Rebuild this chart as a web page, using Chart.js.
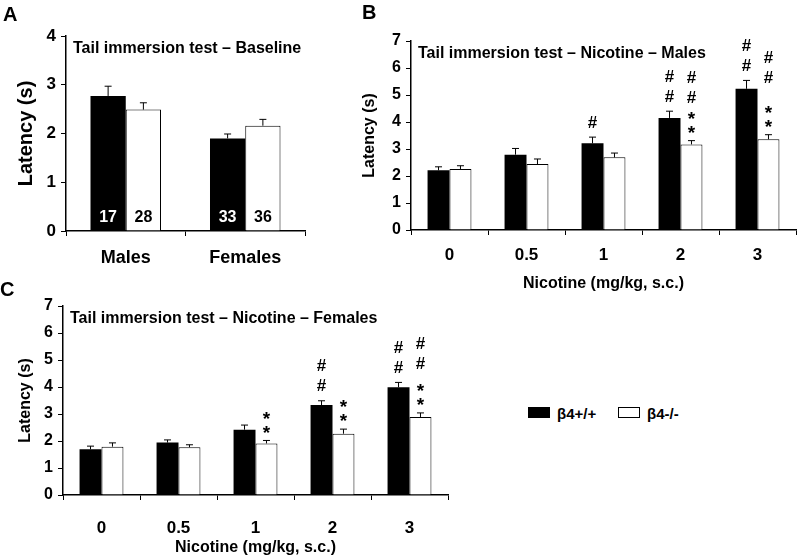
<!DOCTYPE html>
<html>
<head>
<meta charset="utf-8">
<title>Tail immersion test</title>
<script src="https://cdn.jsdelivr.net/npm/chart.js@4.4.1/dist/chart.umd.min.js"></script>
<style>
  html, body { margin: 0; padding: 0; background: #fff; }
  body { width: 797px; height: 558px; position: relative; overflow: hidden;
         font-family: "Liberation Sans", Arial, sans-serif; color: #000; }
  canvas { position: absolute; }
  .letter { position: absolute; font-weight: bold; font-size: 20px; line-height: 1; z-index: 2; }
  .key { position: absolute; width: 22px; height: 11px; box-sizing: border-box; border: 1px solid #000; }
  .key-text { position: absolute; font-weight: bold; font-size: 15px; line-height: 1; }
</style>
</head>
<body>
<div class="letter" style="left:3px;top:4px">A</div>
<div class="letter" style="left:362px;top:2px">B</div>
<div class="letter" style="left:0px;top:279px">C</div>

<canvas id="chart-baseline" width="310" height="290" style="left:0;top:0"></canvas>
<canvas id="chart-males" width="447" height="300" style="left:350px;top:0"></canvas>
<canvas id="chart-females" width="450" height="278" style="left:0;top:280px"></canvas>

<!-- legenda comum -->
<div class="key" style="left:528px;top:407px;background:#000"></div>
<div class="key-text" style="left:557px;top:406px">β4+/+</div>
<div class="key" style="left:618px;top:407px;background:#fff"></div>
<div class="key-text" style="left:647px;top:406px">β4-/-</div>

<script>
// --- dados ---
const seriesNames = ['β4+/+', 'β4-/-'];

// A: baseline
const baselineLabels = ['Males', 'Females'];
const baselineWT = [2.77, 1.90];
const baselineWTErr = [0.20, 0.09];
const baselineKO = [2.49, 2.16];
const baselineKOErr = [0.14, 0.13];
const baselineWTn = ['17', '33'];
const baselineKOn = ['28', '36'];

// B / C: dose de nicotina
const doseLabels = ['0', '0.5', '1', '2', '3'];

const malesWT = [2.21, 2.79, 3.21, 4.15, 5.23];
const malesWTErr = [0.13, 0.23, 0.23, 0.25, 0.31];
const malesKO = [2.26, 2.44, 2.69, 3.17, 3.36];
const malesKOErr = [0.12, 0.19, 0.16, 0.14, 0.17];
// marcas de cima para baixo; ' ' = espaço inteiro, '_' = meio espaço
const malesWTMarks = ['', '', '#', '##', '##'];
const malesKOMarks = ['', '', '', '##**', '## **'];

const femalesWT = [1.69, 1.94, 2.42, 3.33, 3.99];
const femalesWTErr = [0.12, 0.10, 0.17, 0.16, 0.18];
const femalesKO = [1.79, 1.77, 1.91, 2.27, 2.89];
const femalesKOErr = [0.14, 0.09, 0.11, 0.17, 0.15];
const femalesWTMarks = ['', '', '', '##', '##'];
const femalesKOMarks = ['', '', '**', '**', '##_**'];

const FONT = '"Liberation Sans", Arial, sans-serif';

// título dentro da área do gráfico
const panelTitle = {
    id: 'panelTitle',
    afterDraw(chart, args, opts) {
        const { ctx, chartArea } = chart;
        ctx.save();
        ctx.font = `bold 16px ${FONT}`;
        ctx.fillStyle = '#000';
        ctx.textBaseline = 'middle';
        ctx.fillText(opts.text, chartArea.left + 7, chartArea.top + 13);
        ctx.restore();
    }
};

// empilha # e * acima da barra de erro (de baixo para cima)
function drawMarks(ctx, marks, x, top) {
    const heights = { '*': 14, '#': 20, ' ': 14, '_': 7 };
    const symbols = marks.split('').reverse();
    let cy = top - 4;
    let prevHalf = 0;
    symbols.forEach(s => {
        const h = heights[s];
        cy -= prevHalf + h / 2;
        prevHalf = h / 2;
        if (s === '#') {
            ctx.font = `bold 17px ${FONT}`;
            ctx.fillText('#', x, cy);
        } else if (s === '*') {
            ctx.font = `bold 19px ${FONT}`;
            ctx.fillText('*', x, cy + 4);
        }
    });
}

// barras de erro (só para cima), marcas de significância e n
const errorBars = {
    id: 'errorBars',
    afterDatasetsDraw(chart) {
        const ctx = chart.ctx;
        const yScale = chart.scales.y;
        chart.data.datasets.forEach((ds, di) => {
            const meta = chart.getDatasetMeta(di);
            meta.data.forEach((bar, i) => {
                const top = yScale.getPixelForValue(ds.data[i] + ds.errors[i]);
                ctx.save();
                ctx.strokeStyle = '#000';
                ctx.lineWidth = 1;
                ctx.beginPath();
                ctx.moveTo(bar.x, bar.y);
                ctx.lineTo(bar.x, top);
                ctx.moveTo(bar.x - 3.5, top);
                ctx.lineTo(bar.x + 3.5, top);
                ctx.stroke();

                ctx.fillStyle = '#000';
                ctx.textAlign = 'center';
                ctx.textBaseline = 'middle';
                if (ds.marks && ds.marks[i]) drawMarks(ctx, ds.marks[i], bar.x, top);

                if (ds.counts) {
                    ctx.font = `bold 16px ${FONT}`;
                    ctx.fillStyle = ds.countColor;
                    ctx.fillText(ds.counts[i], bar.x, yScale.getPixelForValue(0) - 13);
                }
                ctx.restore();
            });
        });
    }
};

function makeDatasets(wt, wtErr, ko, koErr, extraWT = {}, extraKO = {}) {
    return [
        Object.assign({ label: seriesNames[0], data: wt, errors: wtErr,
            backgroundColor: '#000', borderWidth: 0 }, extraWT),
        Object.assign({ label: seriesNames[1], data: ko, errors: koErr,
            backgroundColor: '#fff', borderColor: '#000', borderWidth: 1 }, extraKO)
    ];
}

function createPanel(canvasId, p) {
    return new Chart(document.getElementById(canvasId), {
        type: 'bar',
        data: { labels: p.labels, datasets: p.datasets },
        options: {
            responsive: false,
            animation: false,
            events: [],
            categoryPercentage: p.groupWidth,
            barPercentage: 1.0,
            layout: { padding: p.padding },
            plugins: {
                legend: { display: false },
                tooltip: { enabled: false },
                panelTitle: { text: p.title }
            },
            scales: {
                x: {
                    grid: { offset: true, drawOnChartArea: false, tickLength: 5, color: '#000', lineWidth: 1 },
                    border: { color: '#000', width: 1.5 },
                    ticks: { color: '#000', padding: p.xTickPad, font: { family: FONT, weight: 'bold', size: p.xTickSize } },
                    title: p.xTitle ? { display: true, text: p.xTitle, color: '#000',
                        padding: { top: 0, bottom: p.xTitlePad },
                        font: { family: FONT, weight: 'bold', size: 16 } } : { display: false },
                    afterFit: s => { s.height = p.xHeight; }
                },
                y: {
                    min: 0,
                    max: p.yMax,
                    grid: { drawOnChartArea: false, tickLength: 5, color: '#000', lineWidth: 1 },
                    border: { color: '#000', width: 1.5 },
                    ticks: { stepSize: 1, color: '#000', padding: 5, font: { family: FONT, weight: 'bold', size: p.yTickSize } },
                    title: { display: true, text: 'Latency (s)', color: '#000',
                        padding: { top: p.yTitlePad, bottom: 0 },
                        font: { family: FONT, weight: 'bold', size: p.yTitleSize } },
                    afterFit: s => { s.width = p.yWidth; }
                }
            }
        },
        plugins: [errorBars, panelTitle]
    });
}

// A
createPanel('chart-baseline', {
    labels: baselineLabels,
    datasets: makeDatasets(baselineWT, baselineWTErr, baselineKO, baselineKOErr,
        { counts: baselineWTn, countColor: '#fff' }, { counts: baselineKOn, countColor: '#000' }),
    title: 'Tail immersion test – Baseline',
    groupWidth: 0.59, yMax: 4,
    padding: { top: 36, right: 5, bottom: 0, left: 0 },
    yWidth: 66, xHeight: 59, xTickPad: 11, xTickSize: 18,
    yTickSize: 17, yTitleSize: 20, yTitlePad: 14
});

// B
createPanel('chart-males', {
    labels: doseLabels,
    datasets: makeDatasets(malesWT, malesWTErr, malesKO, malesKOErr,
        { marks: malesWTMarks }, { marks: malesKOMarks }),
    title: 'Tail immersion test – Nicotine – Males',
    groupWidth: 0.57, yMax: 7,
    padding: { top: 41, right: 1, bottom: 0, left: 0 },
    yWidth: 61, xHeight: 70, xTickPad: 10, xTickSize: 17,
    xTitle: 'Nicotine (mg/kg, s.c.)', xTitlePad: 7,
    yTickSize: 16, yTitleSize: 16, yTitlePad: 10
});

// C
createPanel('chart-females', {
    labels: doseLabels,
    datasets: makeDatasets(femalesWT, femalesWTErr, femalesKO, femalesKOErr,
        { marks: femalesWTMarks }, { marks: femalesKOMarks }),
    title: 'Tail immersion test – Nicotine – Females',
    groupWidth: 0.57, yMax: 7,
    padding: { top: 26, right: 2, bottom: 0, left: 0 },
    yWidth: 63, xHeight: 63, xTickPad: 18, xTickSize: 17,
    xTitle: 'Nicotine (mg/kg, s.c.)', xTitlePad: 1,
    yTickSize: 16, yTitleSize: 16, yTitlePad: 16
});
</script>
</body>
</html>
